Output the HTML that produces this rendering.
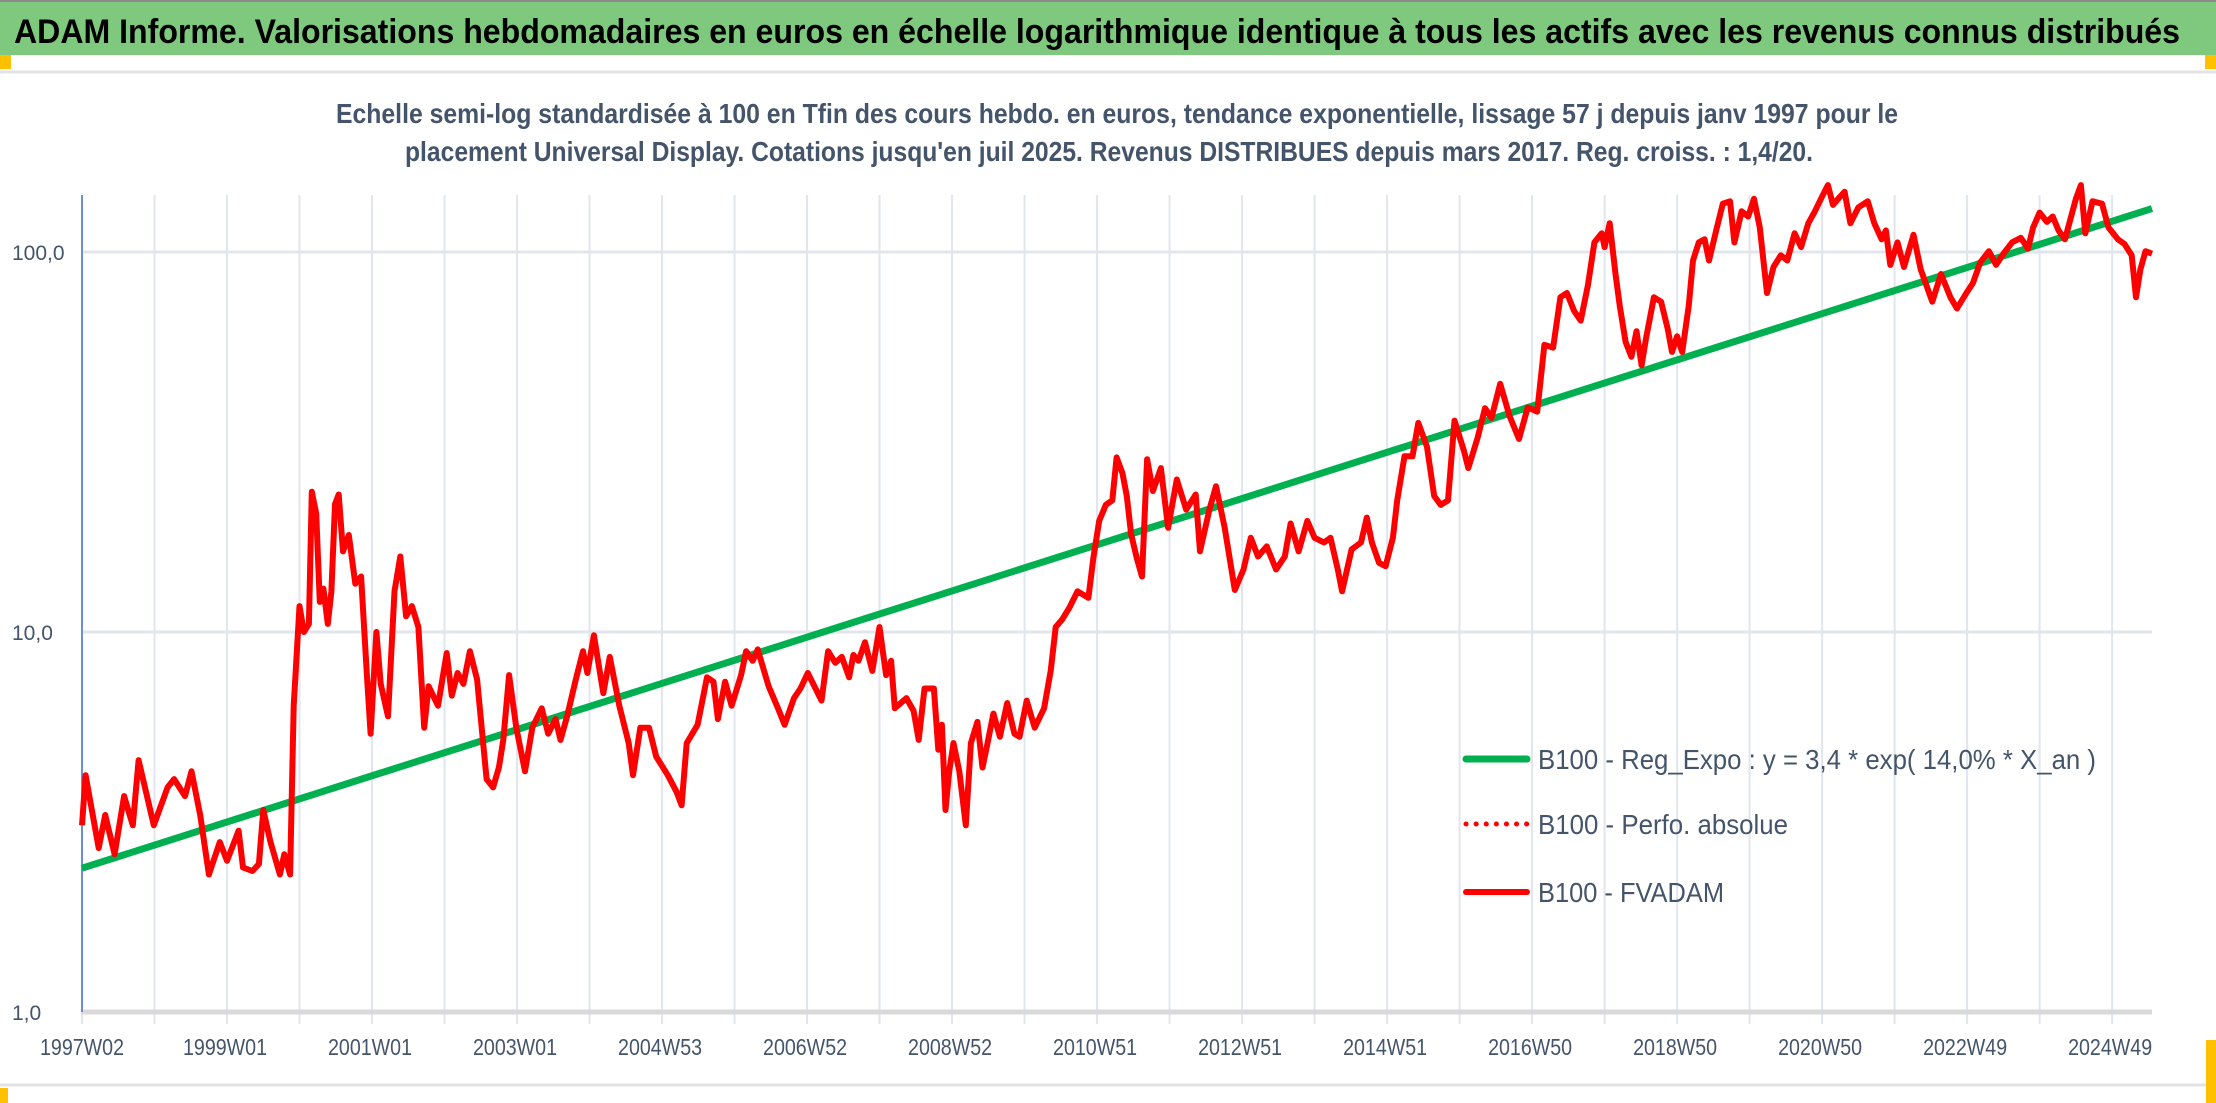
<!DOCTYPE html>
<html><head><meta charset="utf-8"><style>
html,body{margin:0;padding:0;background:#fff;}
svg{display:block;}
text{font-family:"Liberation Sans Narrow","Liberation Sans Condensed","Liberation Sans",sans-serif;}
</style></head><body>
<svg id="chart" width="2216" height="1103" viewBox="0 0 2216 1103" xmlns="http://www.w3.org/2000/svg">
<rect x="0" y="0" width="2216" height="1103" fill="#ffffff"/>
<rect x="0" y="0" width="2216" height="55" fill="#7ec97e"/>
<line x1="0" y1="1" x2="2216" y2="1" stroke="#8a8a8a" stroke-width="2"/>
<text x="14" y="43" font-size="34" font-weight="bold" fill="#000" textLength="2166" lengthAdjust="spacingAndGlyphs">ADAM Informe. Valorisations hebdomadaires en euros en échelle logarithmique identique à tous les actifs avec les revenus connus distribués</text>
<rect x="0" y="55" width="11" height="14" fill="#ffc000"/>
<rect x="2205" y="55" width="11" height="14" fill="#ffc000"/>
<line x1="0" y1="72" x2="2216" y2="72" stroke="#e3e3e3" stroke-width="3"/>
<line x1="0" y1="1085" x2="2216" y2="1085" stroke="#e3e3e3" stroke-width="3"/>
<rect x="0" y="1088" width="8" height="15" fill="#ffc000"/>
<rect x="2206" y="1040" width="10" height="63" fill="#ffc000"/>
<text x="1117" y="123" font-size="28" font-weight="bold" fill="#44546a" text-anchor="middle" textLength="1562" lengthAdjust="spacingAndGlyphs">Echelle semi-log standardisée à 100 en Tfin des cours hebdo. en euros, tendance exponentielle, lissage 57 j depuis janv 1997 pour le</text>
<text x="1109" y="161" font-size="28" font-weight="bold" fill="#44546a" text-anchor="middle" textLength="1408" lengthAdjust="spacingAndGlyphs">placement Universal Display. Cotations jusqu'en juil 2025. Revenus DISTRIBUES depuis mars 2017. Reg. croiss. : 1,4/20.</text>
<g id="grid"></g>
<g id="axes"></g>
<g id="series"></g>
<g id="legend">
<line x1="1466" y1="759" x2="1527" y2="759" stroke="#00b050" stroke-width="7" stroke-linecap="round"/>
<text x="1538" y="769" font-size="28" fill="#44546a" textLength="558" lengthAdjust="spacingAndGlyphs">B100 - Reg_Expo : y = 3,4 * exp( 14,0% *  X_an )</text>
<line x1="1466" y1="824" x2="1527" y2="824" stroke="#ff0000" stroke-width="5" stroke-dasharray="0.1 10" stroke-linecap="round"/>
<text x="1538" y="834" font-size="28" fill="#44546a" textLength="250" lengthAdjust="spacingAndGlyphs">B100 - Perfo. absolue</text>
<line x1="1466" y1="892" x2="1527" y2="892" stroke="#ff0000" stroke-width="6" stroke-linecap="round"/>
<text x="1538" y="902" font-size="28" fill="#44546a" textLength="186" lengthAdjust="spacingAndGlyphs">B100 - FVADAM</text>
</g>
</svg>
<script>
const xTickLabels = ["1997W02","1999W01","2001W01","2003W01","2004W53","2006W52","2008W52","2010W51","2012W51","2014W51","2016W50","2018W50","2020W50","2022W49","2024W49"];
const xTickYears = [1997,1999,2001,2003,2005,2007,2009,2011,2013,2015,2017,2019,2021,2023,2025];
const yTickValues = [1,10,100];
const yTickLabels = ["1,0","10,0","100,0"];
const regStartValue = 2.39;
const regRate = 0.14;
const regStartYear = 1997;
const regEndYear = 2025.55;
const fvTimes = [1997.0,1997.05,1997.23,1997.32,1997.45,1997.58,1997.7,1997.78,1997.99,1998.18,1998.27,1998.42,1998.51,1998.63,1998.75,1998.9,1999.0,1999.16,1999.22,1999.35,1999.44,1999.5,1999.6,1999.73,1999.79,1999.87,1999.92,2000.0,2000.06,2000.13,2000.17,2000.23,2000.28,2000.33,2000.39,2000.44,2000.49,2000.54,2000.6,2000.68,2000.77,2000.85,2000.93,2000.98,2001.06,2001.12,2001.22,2001.31,2001.39,2001.47,2001.55,2001.64,2001.72,2001.78,2001.91,2002.03,2002.1,2002.18,2002.26,2002.35,2002.45,2002.58,2002.67,2002.75,2002.81,2002.89,2002.99,2003.11,2003.21,2003.34,2003.43,2003.53,2003.6,2003.69,2003.81,2003.91,2003.97,2004.06,2004.19,2004.28,2004.41,2004.54,2004.6,2004.7,2004.82,2004.92,2005.08,2005.2,2005.27,2005.34,2005.49,2005.62,2005.71,2005.77,2005.87,2005.96,2006.09,2006.16,2006.25,2006.32,2006.47,2006.6,2006.69,2006.82,2006.91,2007.01,2007.2,2007.29,2007.39,2007.48,2007.58,2007.64,2007.71,2007.8,2007.9,2008.0,2008.09,2008.16,2008.21,2008.37,2008.47,2008.54,2008.62,2008.75,2008.81,2008.86,2008.91,2008.96,2009.02,2009.1,2009.19,2009.26,2009.35,2009.42,2009.48,2009.57,2009.66,2009.76,2009.86,2009.93,2010.03,2010.14,2010.27,2010.36,2010.43,2010.52,2010.62,2010.73,2010.88,2010.95,2011.03,2011.12,2011.21,2011.27,2011.35,2011.41,2011.47,2011.55,2011.62,2011.69,2011.77,2011.88,2011.98,2012.1,2012.23,2012.36,2012.42,2012.55,2012.64,2012.76,2012.9,2013.02,2013.12,2013.22,2013.34,2013.47,2013.59,2013.67,2013.78,2013.9,2014.0,2014.13,2014.22,2014.32,2014.38,2014.51,2014.64,2014.72,2014.79,2014.89,2014.98,2015.08,2015.14,2015.24,2015.35,2015.43,2015.55,2015.65,2015.74,2015.84,2015.93,2016.06,2016.12,2016.25,2016.35,2016.44,2016.56,2016.69,2016.82,2016.94,2017.07,2017.17,2017.29,2017.39,2017.48,2017.58,2017.67,2017.77,2017.86,2017.96,2018.0,2018.07,2018.15,2018.21,2018.29,2018.37,2018.44,2018.51,2018.57,2018.68,2018.78,2018.87,2018.93,2019.0,2019.07,2019.16,2019.22,2019.3,2019.38,2019.44,2019.54,2019.63,2019.73,2019.79,2019.89,2019.98,2020.06,2020.14,2020.24,2020.33,2020.43,2020.52,2020.62,2020.71,2020.81,2020.9,2021.0,2021.08,2021.15,2021.25,2021.31,2021.39,2021.5,2021.63,2021.72,2021.82,2021.88,2021.94,2022.04,2022.13,2022.26,2022.36,2022.52,2022.64,2022.77,2022.86,2022.99,2023.08,2023.18,2023.3,2023.4,2023.5,2023.62,2023.74,2023.84,2023.91,2024.0,2024.1,2024.18,2024.26,2024.35,2024.41,2024.5,2024.57,2024.63,2024.73,2024.86,2024.95,2025.08,2025.17,2025.27,2025.33,2025.39,2025.46,2025.55];
const fvValues = [3.1,4.2,2.7,3.3,2.6,3.7,3.1,4.6,3.1,3.9,4.1,3.7,4.3,3.3,2.3,2.8,2.5,3.0,2.4,2.35,2.45,3.4,2.8,2.3,2.6,2.3,6.4,11.7,10,10.5,23.4,20.5,12,13,10.5,12.8,21.7,23,16.3,18,13.4,14,7.7,5.4,10,7.3,6.0,12.8,15.8,11,11.7,10.3,5.6,7.2,6.4,8.8,6.8,7.8,7.3,8.9,7.5,4.1,3.9,4.4,5.2,7.7,5.6,4.3,5.6,6.3,5.4,5.9,5.2,6.0,7.5,8.9,7.8,9.8,6.9,8.6,6.4,5.1,4.2,5.6,5.6,4.7,4.2,3.8,3.5,5.1,5.7,7.6,7.4,5.9,7.4,6.4,7.7,8.9,8.4,9.0,7.2,6.3,5.7,6.7,7.1,7.8,6.6,8.9,8.3,8.6,7.6,8.7,8.4,9.4,7.9,10.3,7.7,8.4,6.3,6.7,6.2,5.2,7.1,7.1,4.9,5.7,3.4,4.3,5.1,4.3,3.1,5.1,5.8,4.4,5.0,6.1,5.3,6.5,5.4,5.3,6.6,5.6,6.3,7.9,10.3,10.8,11.6,12.8,12.3,15.7,19.6,21.6,22.2,28.8,26.2,22.8,18.1,15.6,14.0,28.5,23.5,27,18.8,25.2,21,23,16.3,21,24.2,18.8,12.9,14.6,17.7,15.8,16.8,14.6,15.8,19.3,16.3,19.6,17.7,17.2,17.7,14.6,12.8,16.5,17.2,20,17.2,15.2,14.9,17.7,22.2,29,29,35.5,30.7,22.8,21.6,22.2,36,30,27,32.5,38.8,36.6,45,37,32.2,39,38,57,56,76,78,70,66,81.7,106,112,103,119,87.5,72,58,53,61.9,50.3,59,76,74,62.8,54.6,60,54.6,72,95,106,108,95,114,134,136,106,128,124,138,116,78,91.3,98,95,112,103,119,128,140,150,133,140,144,119,131,136,119,108,114,92.5,106,91.3,111,90,74,87.5,76,71,78,82.8,93.8,100.5,92.5,99,106,109,102,116,127,120,124,114,108,119,138,150,112,136,134,116,108,105,98,76,90,100.5,99];

const NS = "http://www.w3.org/2000/svg";
const X0 = 82, X1 = 2152, T0 = 1997, T1 = 2025.55;
const Y1v = 1012, Y100 = 252;
function xScale(t){ return X0 + (t - T0) * (X1 - X0) / (T1 - T0); }
function yScale(v){ return Y1v - Math.log10(v) * (Y1v - Y100) / 2; }
function mk(tag, attrs, parent){ const e = document.createElementNS(NS, tag); for (const k in attrs) e.setAttribute(k, attrs[k]); parent.appendChild(e); return e; }

const grid = document.getElementById('grid');
for (let yr = 1997; yr <= 2025; yr++) {
  const x = xScale(yr);
  const l = mk('line', {x1:x, y1:195, x2:x, y2:1024, stroke:'#e1e5ee', 'stroke-width':2}, grid);
  
  
}
yTickValues.forEach((v, i) => {
  const y = yScale(v);
  if (v > 1) {
    const l = mk('line', {x1:X0, y1:y, x2:X1, y2:y, stroke:'#e1e5ee', 'stroke-width':3}, grid);
    
    
  }
  const t = mk('text', {x:12, y:y+8, 'font-size':21, fill:'#44546a'}, grid);
  t.textContent = yTickLabels[i];
  
  
});
const axes = document.getElementById('axes');
const xa = mk('line', {x1:X0, y1:Y1v, x2:X1, y2:Y1v, stroke:'#d9d9d9', 'stroke-width':5}, axes);


const ya = mk('line', {x1:X0, y1:195, x2:X0, y2:Y1v, stroke:'#4472c4', 'stroke-width':1.5}, axes);


xTickLabels.forEach((lab, i) => {
  const t = mk('text', {x:xScale(xTickYears[i]) + (i===0?0:-2), y:1055, 'font-size':23, fill:'#44546a', 'text-anchor':'middle', textLength:84, lengthAdjust:'spacingAndGlyphs'}, axes);
  t.textContent = lab;
  
  
});

const series = document.getElementById('series');
const g1 = regStartValue, g2 = regStartValue * Math.exp(regRate * (regEndYear - regStartYear));
const reg = mk('line', {x1:xScale(regStartYear), y1:yScale(g1), x2:xScale(regEndYear), y2:yScale(g2), stroke:'#00b050', 'stroke-width':7}, series);


let d = '';
fvTimes.forEach((t, i) => { d += (i ? 'L' : 'M') + xScale(t).toFixed(1) + ',' + yScale(fvValues[i]).toFixed(1); });
const fv = mk('path', {d:d, fill:'none', stroke:'#ff0000', 'stroke-width':6, 'stroke-linejoin':'round'}, series);


</script>
</body></html>
